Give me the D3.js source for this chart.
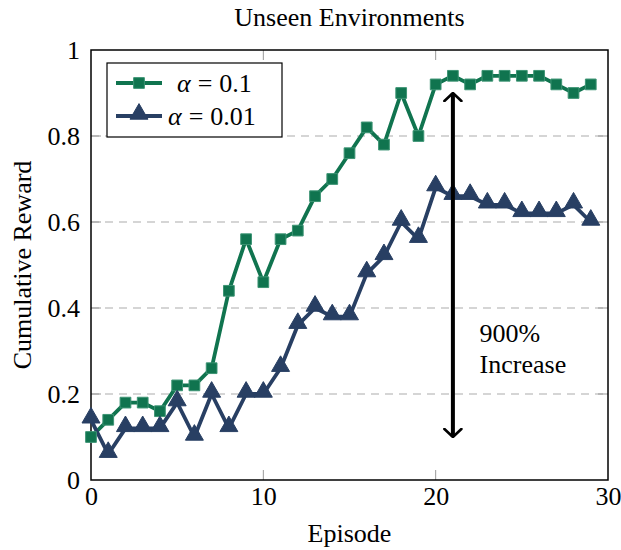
<!DOCTYPE html>
<html>
<head>
<meta charset="utf-8">
<script src="https://cdn.jsdelivr.net/npm/d3@7"></script>
<style>
  body { margin: 0; background: #fff; }
  svg text { font-family: "Liberation Serif", "DejaVu Serif", serif; }
</style>
</head>
<body>
<div id="chart"></div>
<script>
// data
const episodes = d3.range(0, 30);
const alpha01 = [0.10, 0.14, 0.18, 0.18, 0.16, 0.22, 0.22, 0.26, 0.44, 0.56,
  0.46, 0.56, 0.58, 0.66, 0.70, 0.76, 0.82, 0.78, 0.90, 0.80,
  0.92, 0.94, 0.92, 0.94, 0.94, 0.94, 0.94, 0.92, 0.90, 0.92];
const alpha001 = [0.14, 0.06, 0.12, 0.12, 0.12, 0.18, 0.10, 0.20, 0.12, 0.20,
  0.20, 0.26, 0.36, 0.40, 0.38, 0.38, 0.48, 0.52, 0.60, 0.56,
  0.68, 0.66, 0.66, 0.64, 0.64, 0.62, 0.62, 0.62, 0.64, 0.60];
const xTicks = [0, 10, 20, 30];
const yTicks = [0, 0.2, 0.4, 0.6, 0.8, 1];
const seriesValues = ["0.1", "0.01"];
const arrowEpisode = 21;
const arrowRange = [0.9, 0.1];
const noteLines = ["900%", "Increase"];

const width = 621, height = 550;
const margin = { top: 50, right: 13, bottom: 70, left: 91 };
const serif = "'Liberation Serif', 'DejaVu Serif', serif";

const svg = d3.select("#chart")
  .append("svg")
  .attr("width", width)
  .attr("height", height)
  .attr("font-family", serif);

const x = d3.scaleLinear().domain([0, 30]).range([margin.left, width - margin.right]);
const y = d3.scaleLinear().domain([0, 1]).range([height - margin.bottom, margin.top]);

const green = "#10744f";
const blue = "#283f63";

// dashed grid
svg.append("g")
  .selectAll("line")
  .data(yTicks.filter(d => d > 0 && d < 1))
  .join("line")
  .attr("x1", x(0)).attr("x2", x(30))
  .attr("y1", d => y(d)).attr("y2", d => y(d))
  .attr("stroke", "#c8c8c8")
  .attr("stroke-width", 1.3)
  .attr("stroke-dasharray", "8,6");

// small inner ticks on all four sides
const tickLen = 10;
const tickG = svg.append("g").attr("stroke", "#999").attr("stroke-width", 1);
xTicks.filter(d => d > 0 && d < 30).forEach(d => {
  tickG.append("line").attr("x1", x(d)).attr("x2", x(d))
    .attr("y1", y(0)).attr("y2", y(0) - tickLen);
  tickG.append("line").attr("x1", x(d)).attr("x2", x(d))
    .attr("y1", y(1)).attr("y2", y(1) + tickLen);
});
yTicks.filter(d => d > 0 && d < 1).forEach(d => {
  tickG.append("line").attr("x1", x(0)).attr("x2", x(0) + tickLen)
    .attr("y1", y(d)).attr("y2", y(d));
  tickG.append("line").attr("x1", x(30)).attr("x2", x(30) - tickLen)
    .attr("y1", y(d)).attr("y2", y(d));
});

// tick labels via d3 axes
const xAxis = svg.append("g")
  .attr("transform", `translate(0,${y(0)})`)
  .call(d3.axisBottom(x).tickValues(xTicks).tickSize(0).tickPadding(7).tickFormat(d3.format("d")));
xAxis.attr("font-family", serif).attr("font-size", 26);
xAxis.select(".domain").remove();
xAxis.selectAll("text").attr("fill", "#000");

const yAxis = svg.append("g")
  .attr("transform", `translate(${x(0)},0)`)
  .call(d3.axisLeft(y).tickValues(yTicks).tickSize(0).tickPadding(11)
    .tickFormat(d => d === 0 || d === 1 ? d : d3.format(".1f")(d)));
yAxis.attr("font-family", serif).attr("font-size", 26);
yAxis.select(".domain").remove();
yAxis.selectAll("text").attr("fill", "#000");

// frame
svg.append("rect")
  .attr("x", x(0)).attr("y", y(1))
  .attr("width", x(30) - x(0)).attr("height", y(0) - y(1))
  .attr("fill", "none").attr("stroke", "#000").attr("stroke-width", 1.5);

// series
const line = d3.line().x((d, i) => x(episodes[i])).y(d => y(d));

svg.append("path").datum(alpha01)
  .attr("d", line).attr("fill", "none")
  .attr("stroke", green).attr("stroke-width", 3.8).attr("stroke-linejoin", "round");
svg.append("path").datum(alpha001)
  .attr("d", line).attr("fill", "none")
  .attr("stroke", blue).attr("stroke-width", 3.8).attr("stroke-linejoin", "round");

const sq = d3.symbol().type(d3.symbolSquare).size(115);
const tri = d3.symbol().type(d3.symbolTriangle).size(140);

svg.append("g").selectAll("path")
  .data(alpha01)
  .join("path")
  .attr("d", sq)
  .attr("transform", (d, i) => `translate(${x(episodes[i])},${y(d)})`)
  .attr("fill", green).attr("stroke", "#3d9474").attr("stroke-width", 1);

svg.append("g").selectAll("path")
  .data(alpha001)
  .join("path")
  .attr("d", tri)
  .attr("transform", (d, i) => `translate(${x(episodes[i])},${y(d) - 2})`)
  .attr("fill", blue).attr("stroke", blue).attr("stroke-width", 1);

// double arrow
const defs = svg.append("defs");
defs.append("marker")
  .attr("id", "head")
  .attr("viewBox", "0 0 10 20")
  .attr("refX", 9).attr("refY", 10)
  .attr("markerWidth", 10).attr("markerHeight", 20)
  .attr("markerUnits", "userSpaceOnUse")
  .attr("orient", "auto-start-reverse")
  .append("path")
  .attr("d", "M1,1.5 L9,10 L1,18.5")
  .attr("fill", "none").attr("stroke", "#000").attr("stroke-width", 2.6)
  .attr("stroke-linecap", "round").attr("stroke-linejoin", "round");

svg.append("line")
  .attr("x1", x(arrowEpisode)).attr("x2", x(arrowEpisode))
  .attr("y1", y(arrowRange[0])).attr("y2", y(arrowRange[1]))
  .attr("stroke", "#000").attr("stroke-width", 4)
  .attr("marker-start", "url(#head)")
  .attr("marker-end", "url(#head)");

svg.append("g").selectAll("text")
  .data(noteLines)
  .join("text")
  .attr("x", x(22.55))
  .attr("y", (d, i) => 342 + i * 31)
  .attr("font-size", 26)
  .text(d => d);

// legend
const lg = svg.append("g").attr("transform", "translate(107,63)");
lg.append("rect")
  .attr("width", 175).attr("height", 74)
  .attr("fill", "#fff").attr("stroke", "#000").attr("stroke-width", 1.2);

const legendItems = [
  { value: seriesValues[0], color: green, sym: sq, dy: 0, stroke: "#3d9474", tx: 70 },
  { value: seriesValues[1], color: blue, sym: tri, dy: -2, stroke: blue, tx: 61 }
];
legendItems.forEach((it, i) => {
  const yy = 20 + i * 33;
  lg.append("line").attr("x1", 9).attr("x2", 55).attr("y1", yy).attr("y2", yy)
    .attr("stroke", it.color).attr("stroke-width", 3.8);
  lg.append("path").attr("d", it.sym)
    .attr("transform", `translate(32,${yy + it.dy})`)
    .attr("fill", it.color).attr("stroke", it.stroke);
  const t = lg.append("text").attr("x", it.tx).attr("y", yy + 9).attr("font-size", 26);
  t.append("tspan").attr("font-style", "italic").text("α");
  t.append("tspan").attr("dx", 7).text("=");
  t.append("tspan").attr("dx", 7).text(it.value);
});

// titles
svg.append("text")
  .attr("x", (x(0) + x(30)) / 2).attr("y", 26)
  .attr("text-anchor", "middle").attr("font-size", 26)
  .text("Unseen Environments");

svg.append("text")
  .attr("x", (x(0) + x(30)) / 2).attr("y", 542)
  .attr("text-anchor", "middle").attr("font-size", 26)
  .text("Episode");

svg.append("text")
  .attr("transform", `translate(31,${(y(0) + y(1)) / 2}) rotate(-90)`)
  .attr("text-anchor", "middle").attr("font-size", 26)
  .text("Cumulative Reward");
</script>
</body>
</html>
